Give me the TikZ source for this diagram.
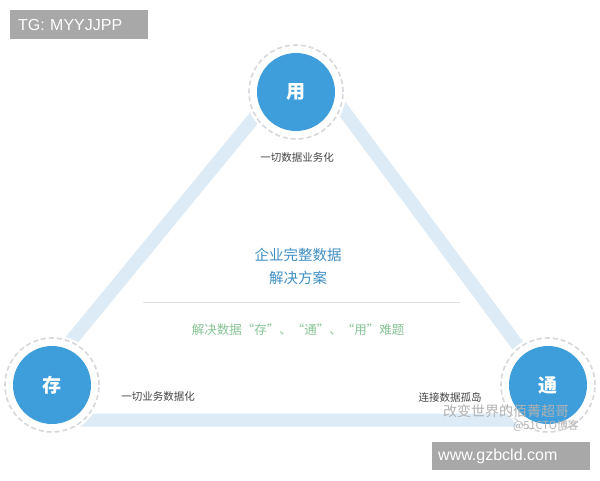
\documentclass[tikz,border=0pt]{standalone}
\usepackage{fontspec}
\setmainfont{Liberation Sans}
\newfontfamily\cjk{Noto Sans CJK SC}
\definecolor{bandblue}{HTML}{DCEBF6}
\definecolor{circblue}{HTML}{3E9EDB}
\definecolor{ringgray}{HTML}{D4D8DC}
\definecolor{titleblue}{HTML}{3F8FC3}
\definecolor{subgreen}{HTML}{86C495}
\definecolor{boxgray}{HTML}{A8A8A8}
\definecolor{labelgray}{HTML}{444444}
\begin{document}
\begin{tikzpicture}[x=1pt,y=-1pt,
  band/.style={line width=13pt, draw=bandblue, rounded corners=60pt},
  mask/.style={circle, fill=white, minimum size=100pt, inner sep=0pt},
  ring/.style={circle, draw=ringgray, dashed, dash pattern=on 5pt off 3pt, line width=1.6pt, minimum size=94pt, inner sep=0pt},
  core/.style={circle, fill=circblue, minimum size=78pt, inner sep=0pt, text=white, font=\cjk\bfseries\fontsize{19}{21}\selectfont},
  lbl/.style={text=labelgray, font=\cjk\fontsize{10.5}{12}\selectfont, inner sep=0pt},
  title/.style={text=titleblue, font=\cjk\fontsize{14.5}{16}\selectfont, inner sep=0pt},
  sub/.style={text=subgreen, font=\cjk\fontsize{12.5}{15}\selectfont, inner sep=0pt},
  tag/.style={fill=boxgray, text=white, font=\fontsize{16}{18}\selectfont, inner sep=0pt, anchor=north west}
]
\useasboundingbox (0,0) rectangle (600,480);
\fill[white] (0,0) rectangle (600,480);
% triangle band
\coordinate (A) at (304,57);
\coordinate (B) at (573,420);
\coordinate (C) at (6,420);
\draw[band] (A) -- (B) -- (C) -- cycle;
% circles
\node[mask] (mU) at (296,92) {};
\node[mask] (mC) at (52,385) {};
\node[mask] (mT) at (548,385) {};
\node[ring] (rU) at (296,92) {};
\node[ring] (rC) at (52,385) {};
\node[ring] (rT) at (548,385) {};
\node[core] (yong) at (296,92) {用};
\node[core] (cun) at (52,385) {存};
\node[core] (tong) at (548,385) {通};
% labels
\node[lbl] (lU) at (297,158) {一切数据业务化};
\node[lbl] (lC) at (158,397) {一切业务数据化};
\node[lbl] (lT) at (450,397) {连接数据孤岛};
% center
\node[title] (t1) at (298,255) {企业完整数据};
\node[title] (t2) at (298,278) {解决方案};
\coordinate (s1) at (143,302);
\coordinate (s2) at (460,302);
\draw[draw=black!12, line width=1pt] (s1) -- (s2);
\node[sub] (t3) at (298,330) {解决数据“存”、“通”、“用”难题};
% watermark
\node[text=black!30, font=\cjk\fontsize{14}{16}\selectfont, inner sep=0pt] (wm1) at (506,411) {改变世界的佰菁超哥};
\node[text=black!30, font=\cjk\fontsize{11}{13}\selectfont, inner sep=0pt] (wm2) at (546,426) {@51CTO博客};
% tag boxes
\node[tag, minimum width=138pt, minimum height=29pt, text width=126pt, align=left] (tg) at (10,10) {\hspace*{2pt}TG: MYYJJPP};
\node[tag, minimum width=158pt, minimum height=28pt, text width=150pt, align=left] (www) at (432,442) {\hspace*{2pt}www.gzbcld.com};
\end{tikzpicture}
\end{document}
